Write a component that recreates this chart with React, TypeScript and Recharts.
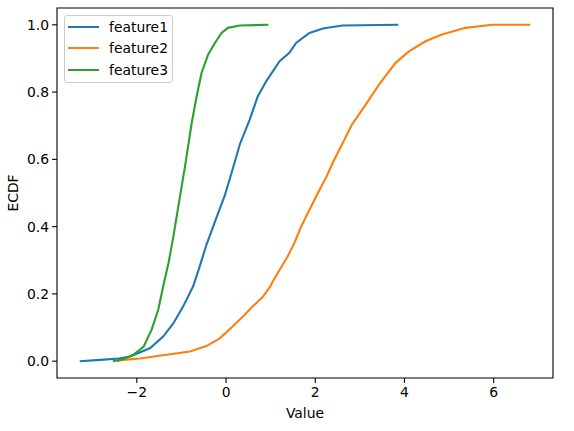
import { LineChart, Line, XAxis, YAxis, ReferenceArea, Legend } from "recharts";

const FONT = "'DejaVu Sans', sans-serif";

const X_DOMAIN: [number, number] = [-3.79, 7.33];
const Y_DOMAIN: [number, number] = [-0.05, 1.05];
const X_TICKS = [-2, 0, 2, 4, 6];
const Y_TICKS = [0, 0.2, 0.4, 0.6, 0.8, 1.0];

// ECDF curves (value, cumulative fraction)
const feature1X = [-3.28, -2.82, -2.4, -2.15, -1.95, -1.7, -1.41, -1.18, -0.96, -0.74, -0.59, -0.44, -0.25, -0.03, 0.12, 0.31, 0.53, 0.71, 0.9, 1.2, 1.42, 1.57, 1.87, 2.17, 2.61, 3.86];
const feature1Y = [0, 0.004, 0.008, 0.014, 0.025, 0.039, 0.073, 0.113, 0.163, 0.222, 0.282, 0.346, 0.414, 0.492, 0.558, 0.645, 0.718, 0.787, 0.832, 0.892, 0.917, 0.946, 0.976, 0.989, 0.998, 1.0];

const feature2X = [-2.45, -2.3, -1.93, -1.33, -0.81, -0.44, -0.14, 0.1, 0.42, 0.6, 0.83, 0.98, 1.09, 1.24, 1.38, 1.53, 1.68, 1.87, 2.05, 2.24, 2.39, 2.83, 3.13, 3.43, 3.8, 4.1, 4.47, 4.84, 5.37, 5.96, 6.82];
const feature2Y = [0, 0.004, 0.008, 0.019, 0.029, 0.045, 0.068, 0.097, 0.138, 0.163, 0.192, 0.22, 0.247, 0.28, 0.311, 0.351, 0.399, 0.45, 0.498, 0.545, 0.589, 0.705, 0.763, 0.822, 0.887, 0.921, 0.951, 0.971, 0.991, 1.0, 1.0];

const feature3X = [-2.54, -2.3, -2.08, -1.85, -1.67, -1.52, -1.41, -1.29, -1.18, -1.07, -0.92, -0.77, -0.66, -0.55, -0.4, -0.25, -0.1, 0.04, 0.31, 0.95];
const feature3Y = [0, 0.006, 0.019, 0.043, 0.093, 0.153, 0.222, 0.292, 0.371, 0.46, 0.579, 0.708, 0.787, 0.857, 0.912, 0.946, 0.976, 0.991, 0.998, 1.0];

const SERIES = [
  { name: "feature1", color: "#1f77b4", xs: feature1X, ys: feature1Y },
  { name: "feature2", color: "#ff7f0e", xs: feature2X, ys: feature2Y },
  { name: "feature3", color: "#2ca02c", xs: feature3X, ys: feature3Y },
];

function toPoints(xs: number[], ys: number[]) {
  return xs.map((x, i) => ({ x, y: ys[i] }));
}

function LegendBox() {
  return (
    <div
      style={{
        boxSizing: "border-box",
        width: 109,
        border: "1px solid #cccccc",
        borderRadius: 3,
        background: "rgba(255,255,255,0.8)",
        padding: "0 0 1px 3px",
        fontFamily: FONT,
        fontSize: 13.9,
        color: "#000",
      }}
    >
      {SERIES.map((s) => (
        <div key={s.name} style={{ display: "flex", alignItems: "center", height: 21.6 }}>
          <span style={{ display: "inline-block", width: 31, height: 2, background: s.color, marginRight: 10 }} />
          <span>{s.name}</span>
        </div>
      ))}
    </div>
  );
}

export default function App() {
  const tickStyle = { fill: "#000", fontSize: 13.9, fontFamily: FONT };
  return (
    <div style={{ position: "absolute", left: 0, top: 0, background: "#fff" }}>
      <LineChart width={574} height={431} margin={{ top: 8, right: 21, bottom: 0, left: 0 }}>
        <XAxis
          dataKey="x"
          type="number"
          domain={X_DOMAIN}
          ticks={X_TICKS}
          allowDataOverflow
          height={53}
          axisLine={false}
          tickLine={{ stroke: "#000", strokeWidth: 1.1 }}
          tickSize={5}
          tickMargin={4}
          tick={tickStyle}
          tickFormatter={(v: number) => (v < 0 ? `\u2212${Math.abs(v)}` : `${v}`)}
          label={{ value: "Value", position: "insideBottom", offset: 13, fill: "#000", fontSize: 13.9, fontFamily: FONT }}
        />
        <YAxis
          dataKey="y"
          type="number"
          domain={Y_DOMAIN}
          ticks={Y_TICKS}
          allowDataOverflow
          width={57}
          axisLine={false}
          tickLine={{ stroke: "#000", strokeWidth: 1.1 }}
          tickSize={5}
          tickMargin={3}
          tick={tickStyle}
          tickFormatter={(v: number) => v.toFixed(1)}
          label={{
            content: (props: any) => {
              const vb = props.viewBox || { x: 0, y: 0, width: 57, height: 370 };
              const cx = vb.x + 13;
              const cy = vb.y + vb.height / 2;
              return (
                <text
                  x={cx}
                  y={cy}
                  transform={`rotate(-90 ${cx} ${cy})`}
                  textAnchor="middle"
                  dominantBaseline="central"
                  fill="#000"
                  fontSize={13.9}
                  fontFamily={FONT}
                >
                  ECDF
                </text>
              );
            },
          }}
        />
        {SERIES.map((s) => (
          <Line
            key={s.name}
            data={toPoints(s.xs, s.ys)}
            dataKey="y"
            name={s.name}
            type="linear"
            stroke={s.color}
            strokeWidth={2.1}
            dot={false}
            activeDot={false}
            isAnimationActive={false}
          />
        ))}
        <ReferenceArea
          x1={X_DOMAIN[0]}
          x2={X_DOMAIN[1]}
          y1={Y_DOMAIN[0]}
          y2={Y_DOMAIN[1]}
          fill="none"
          stroke="#000"
          strokeWidth={1.1}
          ifOverflow="visible"
        />
        <Legend
          layout="horizontal"
          verticalAlign="middle"
          align="center"
          content={() => <LegendBox />}
          wrapperStyle={{ left: 64, top: 15, width: "auto" }}
        />
      </LineChart>
    </div>
  );
}
